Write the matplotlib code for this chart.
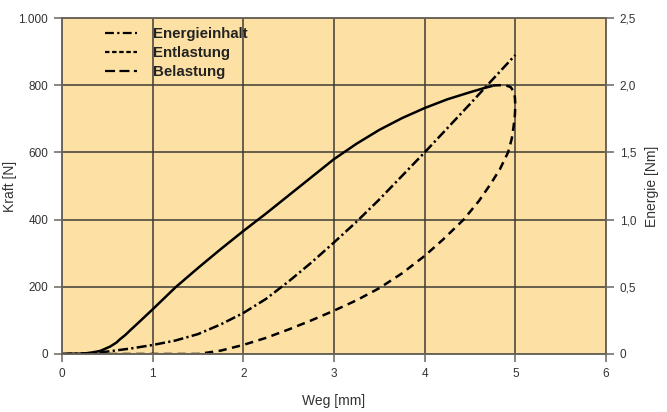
import matplotlib
matplotlib.use("Agg")
import matplotlib.pyplot as plt
from matplotlib.lines import Line2D

plt.rcParams['font.family'] = ['Liberation Sans', 'DejaVu Sans']

# Belastung (loading) - force over travel
weg_load = [0, 0.2, 0.3, 0.42, 0.53, 0.6, 0.64, 0.7, 0.75, 0.85, 1.0, 1.25, 1.5,
            1.75, 2.0, 2.25, 2.5, 2.75, 3.0, 3.25, 3.5, 3.75, 4.0, 4.25, 4.5,
            4.65, 4.75]
kraft_load = [0, 1, 3, 9, 22, 34, 44, 57, 70, 95, 133, 198, 256,
              312, 366, 418, 472, 526, 580, 626, 667, 702, 732, 758, 779,
              791, 798]

# Entlastung (unloading) path back from the peak
weg_unload = [4.75, 4.82, 4.9, 4.95, 4.98, 4.995, 5.0, 4.995, 4.98, 4.96, 4.92,
              4.83, 4.73, 4.6, 4.43, 4.2, 4.0, 3.75, 3.5, 3.25, 3.0, 2.75, 2.5,
              2.25, 2.0, 1.75, 1.5, 0.0]
kraft_unload = [799, 800, 799, 794, 782, 765, 740, 710, 675, 640, 600,
                550, 507, 456, 400, 340, 292, 240, 196, 160, 129, 100, 73,
                48, 27, 10, 0, 0]

# Energieinhalt (energy) on the right axis
weg_energy = [0, 0.25, 0.5, 0.75, 1.0, 1.25, 1.5, 1.75, 2.0, 2.25, 2.5, 2.75,
              3.0, 3.25, 3.5, 3.75, 4.0, 4.25, 4.5, 4.75, 5.0]
energie = [0, 0.004, 0.018, 0.04, 0.067, 0.1, 0.148, 0.22, 0.305, 0.41, 0.54, 0.68,
           0.83, 0.985, 1.15, 1.325, 1.5, 1.68, 1.86, 2.043, 2.225]

x_ticks = [0, 1, 2, 3, 4, 5, 6]
kraft_ticks = [0, 200, 400, 600, 800, 1000]
kraft_labels = ['0', '200', '400', '600', '800', '1.000']
energie_ticks = [0, 0.5, 1.0, 1.5, 2.0, 2.5]
energie_labels = ['0', '0,5', '1,0', '1,5', '2,0', '2,5']

bg = '#FDE1A4'
gridc = '#3e3a36'
spinec = '#6b655c'
textc = '#333333'

fig = plt.figure(figsize=(6.67, 4.12), dpi=100)
ax = fig.add_axes([0.093, 0.1408, 0.8155, 0.8155])
ax.set_facecolor(bg)

ax.plot(weg_load, kraft_load, color='black', lw=1.8, solid_capstyle='butt')
ax.plot(weg_unload, kraft_unload, color='black', lw=1.8, dashes=(3.3, 2.2))

ax.set_xlim(0, 6)
ax.set_ylim(0, 1000)
ax.set_xticks(x_ticks)
ax.set_yticks(kraft_ticks)
ax.set_yticklabels(kraft_labels)
ax.grid(True, color=gridc, lw=1.1)
ax.set_axisbelow(True)

ax2 = ax.twinx()
ax2.plot(weg_energy, energie, color='black', lw=1.8, dashes=(4, 1.3, 0.9, 1.3))
ax2.set_ylim(0, 2.5)
ax2.set_yticks(energie_ticks)
ax2.set_yticklabels(energie_labels)

for a in (ax, ax2):
    for s in a.spines.values():
        s.set_color(spinec)
        s.set_linewidth(1.2)
    a.tick_params(direction='out', length=6, width=1.1, color=spinec,
                  labelsize=8.5, labelcolor=textc, pad=4)

ax.set_xlabel('Weg [mm]', fontsize=10, color=textc, labelpad=10)
ax.set_ylabel('Kraft [N]', fontsize=10, color=textc, labelpad=1)
ax2.set_ylabel('Energie [Nm]', fontsize=10, color=textc, labelpad=6)

handles = [
    Line2D([], [], color='black', lw=1.6, dashes=(4, 1.5, 1, 1.5)),
    Line2D([], [], color='black', lw=1.6, dashes=(2, 1.2)),
    Line2D([], [], color='black', lw=1.6, dashes=(4.5, 2)),
]
leg = ax.legend(handles, ['Energieinhalt', 'Entlastung', 'Belastung'],
                loc='upper left', bbox_to_anchor=(0.055, 1.012), frameon=False,
                prop={'size': 10.8, 'weight': 'bold'}, handlelength=2.1,
                labelspacing=0.33, handletextpad=1.1)
for t in leg.get_texts():
    t.set_color('#222222')

fig.savefig('out.png', dpi=100)
